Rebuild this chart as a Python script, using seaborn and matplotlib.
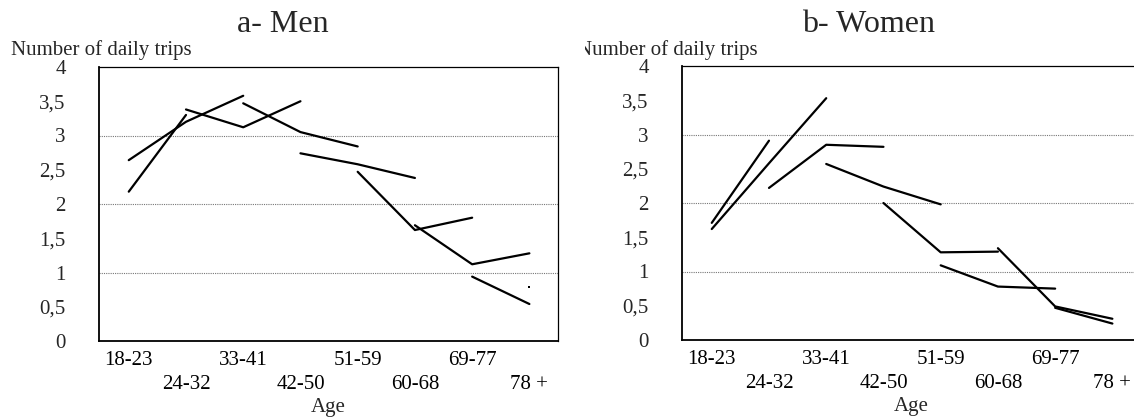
import pandas as pd
import matplotlib
matplotlib.use('Agg')
import matplotlib.pyplot as plt
import seaborn as sns
from matplotlib.transforms import Bbox, TransformedBbox

# Age groups on the x axis
ages = ["18-23", "24-32", "33-41", "42-50", "51-59", "60-68", "69-77", "78 +"]

# Cohort lines: (first age group index, values)
men_a = [2.64, 3.20, 3.58]
men_b = [2.18, 3.30]
men_c = [3.38, 3.12, 3.50]
men_d = [3.47, 3.05, 2.84]
men_e = [2.74, 2.58, 2.38]
men_f = [2.47, 1.62, 1.80]
men_g = [1.69, 1.12, 1.28]
men_h = [0.94, 0.54]
men_i = [0.79]
men_start = [0, 0, 1, 2, 3, 4, 5, 6, 7]

women_a = [1.62, 2.58, 3.53]
women_b = [1.71, 2.91]
women_c = [2.22, 2.85, 2.82]
women_d = [2.57, 2.24, 1.98]
women_e = [2.00, 1.28, 1.29]
women_f = [1.09, 0.78, 0.75]
women_g = [1.34, 0.49, 0.31]
women_h = [0.47, 0.24]
women_start = [0, 0, 1, 2, 3, 4, 5, 6]

men = [men_a, men_b, men_c, men_d, men_e, men_f, men_g, men_h, men_i]
women = [women_a, women_b, women_c, women_d, women_e, women_f, women_g, women_h]


def to_frame(series, starts):
    rows = []
    for k, (vals, s) in enumerate(zip(series, starts)):
        for j, v in enumerate(vals):
            rows.append({'cohort': k, 'age': s + j, 'trips': v, 'n': len(vals)})
    return pd.DataFrame(rows)


sns.set_theme(style='white')
plt.rcParams['font.family'] = ['Liberation Serif', 'DejaVu Serif']
plt.rcParams['font.size'] = 15

fig = plt.figure(figsize=(11.34, 4.2), dpi=100)
ax1 = fig.add_axes([99 / 1134, 79 / 420, 459 / 1134, 274 / 420])
ax2 = fig.add_axes([682 / 1134, 80 / 420, 459 / 1134, 274 / 420])

panels = [(ax1, to_frame(men, men_start), "a- Men", 283),
          (ax2, to_frame(women, women_start), "b- Women", 869)]

for ax, df, title, tx in panels:
    for y in [1, 2, 3]:
        ax.axhline(y, color='#777777', ls=(0, (1, 1)), lw=0.8, zorder=0)
    sns.lineplot(data=df[df['n'] > 1], x='age', y='trips', units='cohort',
                 estimator=None, color='black', lw=1.6, ax=ax)
    single = df[df['n'] == 1]
    if len(single):
        sns.scatterplot(data=single, x='age', y='trips', color='black',
                        s=3, marker='s', linewidth=0, ax=ax)
    ax.set_xlim(-0.52, 7.5)
    ax.set_ylim(0, 4)
    ax.set_xticks(range(len(ages)))
    ax.set_xticklabels([a if i % 2 == 0 else "\n" + a for i, a in enumerate(ages)],
                       fontsize=15, linespacing=1.4)
    ax.set_yticks([0, 0.5, 1, 1.5, 2, 2.5, 3, 3.5, 4])
    ax.set_yticklabels(["0", "0,5", "1", "1,5", "2", "2,5", "3", "3,5", "4"], fontsize=15)
    ax.set_yticks([0.25, 0.75, 1.25, 1.75, 2.25, 2.75, 3.25, 3.75], minor=True)
    ax.tick_params(axis='x', direction='inout', length=8, width=0.8, pad=3, colors='black')
    ax.tick_params(axis='y', which='both', direction='inout', length=4, width=0.8, pad=22)
    ax.set_xlabel("Age", fontsize=15, labelpad=3)
    ax.set_ylabel("")
    for sp in ax.spines.values():
        sp.set_color('black')
        sp.set_linewidth(0.9)
    ax.spines['left'].set_linewidth(1.3)
    ax.spines['bottom'].set_linewidth(1.3)
    fig.text(tx / 1134, 1 - 24 / 420, title, ha='center', va='center', fontsize=23)

fig.text(11 / 1134, 1 - 50 / 420, "Number of daily trips", ha='left', va='center', fontsize=15)
t = fig.text(577 / 1134, 1 - 50 / 420, "Number of daily trips", ha='left', va='center', fontsize=15)
t.set_clip_on(True)
t.set_clip_box(TransformedBbox(Bbox([[585 / 1134, 0], [1, 1]]), fig.transFigure))

fig.savefig('out.png', dpi=100)
